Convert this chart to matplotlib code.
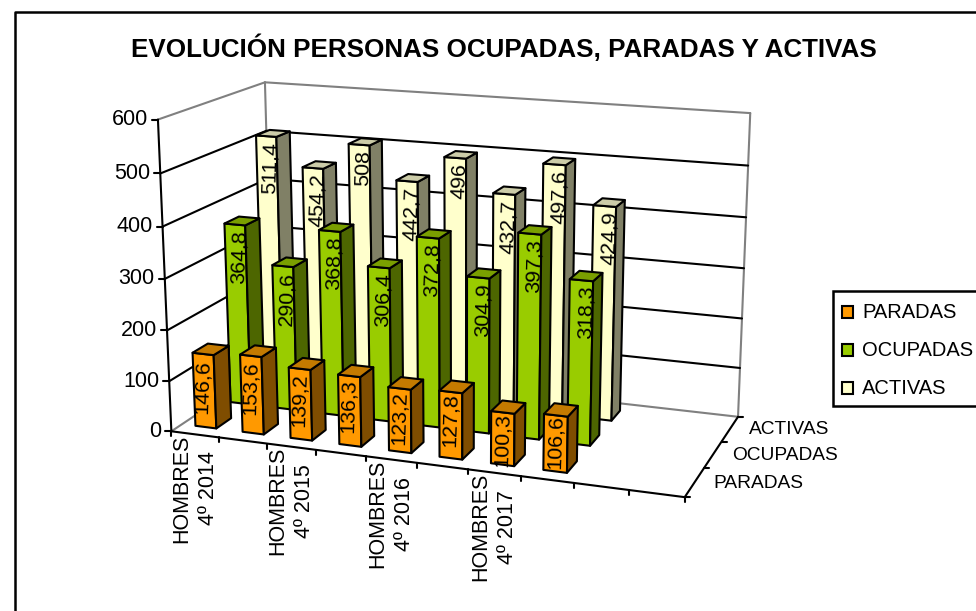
import numpy as np
import matplotlib
matplotlib.use('Agg')
import matplotlib.pyplot as plt
from matplotlib.patches import Polygon, Rectangle

plt.rcParams['font.family'] = ['Liberation Sans', 'DejaVu Sans']

title = 'EVOLUCIÓN PERSONAS OCUPADAS, PARADAS Y ACTIVAS'
series_names = ['PARADAS', 'OCUPADAS', 'ACTIVAS']
parados = [146.6, 153.6, 139.2, 136.3, 123.2, 127.8, 100.3, 106.6]
ocupados = [364.8, 290.6, 368.8, 306.4, 372.8, 304.9, 397.3, 318.3]
activos = [511.4, 454.2, 508, 442.7, 496, 432.7, 497.6, 424.9]
y_ticks = [0, 100, 200, 300, 400, 500, 600]
cat_labels = ['HOMBRES\n4º 2014', '', 'HOMBRES\n4º 2015', '', 'HOMBRES\n4º 2016', '',
              'HOMBRES\n4º 2017', '', '', '']
front_colors = ['#FF9900', '#99CC00', '#FFFFCC']
top_colors = ['#C47A00', '#7A9F00', '#CCCCA8']
side_colors = ['#7F4D00', '#4D6600', '#808066']
n_cats = len(cat_labels)
y_max = y_ticks[-1]

# corners of the 3d box in pixels: (cat, depth, height), all 0..1
box_corners = [
    ((0, 0, 0), (172, 431)), ((0, 0, 1), (157, 120)),
    ((0, 1, 0), (272, 364)), ((0, 1, 1), (266, 82)),
    ((1, 1, 0), (738, 417)), ((1, 1, 1), (750, 113)),
    ((1, 0, 0), (685, 497)),
]


def fit_projection(corners):
    rows, rhs = [], []
    for (x, y, z), (u, v) in corners:
        rows.append([x, y, z, 1, 0, 0, 0, 0, -u * x, -u * y, -u * z])
        rhs.append(u)
        rows.append([0, 0, 0, 0, x, y, z, 1, -v * x, -v * y, -v * z])
        rhs.append(v)
    sol = np.linalg.lstsq(np.array(rows, float), np.array(rhs, float), rcond=None)[0]
    return np.append(sol, 1).reshape(3, 4)


P = fit_projection(box_corners)


def proj(cat, depth, value):
    q = P @ np.array([cat / n_cats, depth / 3, value / y_max, 1])
    return q[0] / q[2], q[1] / q[2]


def line(ax, a, b, color='black', lw=1.5):
    ax.plot([a[0], b[0]], [a[1], b[1]], color=color, lw=lw, solid_capstyle='round', zorder=1)


def draw_bar(ax, cat, depth, value, s):
    x0, x1 = cat + 0.285, cat + 0.73
    y0, y1 = depth + 0.29, depth + 0.71
    faces = [
        ([proj(x0, y0, 0), proj(x1, y0, 0), proj(x1, y0, value), proj(x0, y0, value)], front_colors[s]),
        ([proj(x1, y0, 0), proj(x1, y1, 0), proj(x1, y1, value), proj(x1, y0, value)], side_colors[s]),
        ([proj(x0, y0, value), proj(x1, y0, value), proj(x1, y1, value), proj(x0, y1, value)], top_colors[s]),
    ]
    for pts, col in faces:
        ax.add_patch(Polygon(pts, closed=True, facecolor=col, edgecolor='black', lw=1.5,
                             joinstyle='round', zorder=2))


fig = plt.figure(figsize=(9.76, 6.11), dpi=100)
ax = fig.add_axes([0, 0, 1, 1])
ax.set_xlim(0, 976)
ax.set_ylim(611, 0)
ax.axis('off')

# chart frame, open on the right and at the bottom
ax.plot([14.5, 14.5, 976], [611, 11.5, 11.5], color='black', lw=1.8, zorder=1)
ax.text(504, 48, title, fontsize=18.7, fontweight='bold', ha='center', va='center')

# walls
grey = '#808080'
line(ax, proj(0, 0, y_max), proj(0, 3, y_max), grey)
line(ax, proj(0, 3, y_max), proj(n_cats, 3, y_max), grey)
line(ax, proj(n_cats, 3, y_max), proj(n_cats, 3, 0), grey)
line(ax, proj(0, 3, y_max), proj(0, 3, 0), grey)
line(ax, proj(0, 0, 0), proj(0, 3, 0), grey)
line(ax, proj(0, 3, 0), proj(n_cats, 3, 0), grey)
for t in y_ticks[1:-1]:
    line(ax, proj(0, 0, t), proj(0, 3, t))
    line(ax, proj(0, 3, t), proj(n_cats, 3, t))

# axes and ticks
line(ax, proj(0, 0, 0), proj(0, 0, y_max))
line(ax, proj(0, 0, 0), proj(n_cats, 0, 0))
line(ax, proj(n_cats, 0, 0), proj(n_cats, 3, 0))
for t in y_ticks:
    px, py = proj(0, 0, t)
    line(ax, (px - 6, py), (px, py))
    ax.text(px - 10, py, str(t), fontsize=15.5, ha='right', va='center')
for i in range(n_cats + 1):
    px, py = proj(i, 0, 0)
    line(ax, (px, py), (px, py + 5))
for i, lab in enumerate(cat_labels):
    if lab:
        px, py = proj(i + 0.5, 0, 0)
        ax.text(px, py, lab, fontsize=15.5, rotation=90, ha='center', va='top',
                multialignment='center', linespacing=1.38)
for d in range(4):
    px, py = proj(n_cats, d, 0)
    line(ax, (px, py), (px + 5, py))
for d, name in enumerate(series_names):
    px, py = proj(n_cats, d + 0.5, 0)
    ax.text(px + 19, py + 1, name, fontsize=13.8, ha='left', va='center')

# bars back to front, left to right
all_values = [parados, ocupados, activos]
label_pos = [0.5, 0.6, 0.6]
for s in [2, 1, 0]:
    for i, v in enumerate(all_values[s]):
        draw_bar(ax, i, s, v, s)
        px, py = proj(i + label_pos[s], s + 0.29, v)
        # front row labels creep upward to the right in the original
        off = 6 - 0.9 * i if s == 0 else 5
        ax.text(px, py + off, str(v).replace('.', ','), fontsize=15.4, rotation=88,
                ha='center', va='top', zorder=3)

# legend, runs off the right edge like the original
ax.add_patch(Rectangle((833, 291), 160, 115, facecolor='white', edgecolor='black', lw=1.8, zorder=4))
for s, name in enumerate(series_names):
    yc = 312 + 38 * s
    ax.add_patch(Rectangle((842, yc - 6), 11, 12, facecolor=front_colors[s], edgecolor='black',
                           lw=1.5, zorder=5))
    ax.text(862, yc, name, fontsize=14.5, ha='left', va='center', zorder=5)

fig.savefig('out.png', dpi=100)
